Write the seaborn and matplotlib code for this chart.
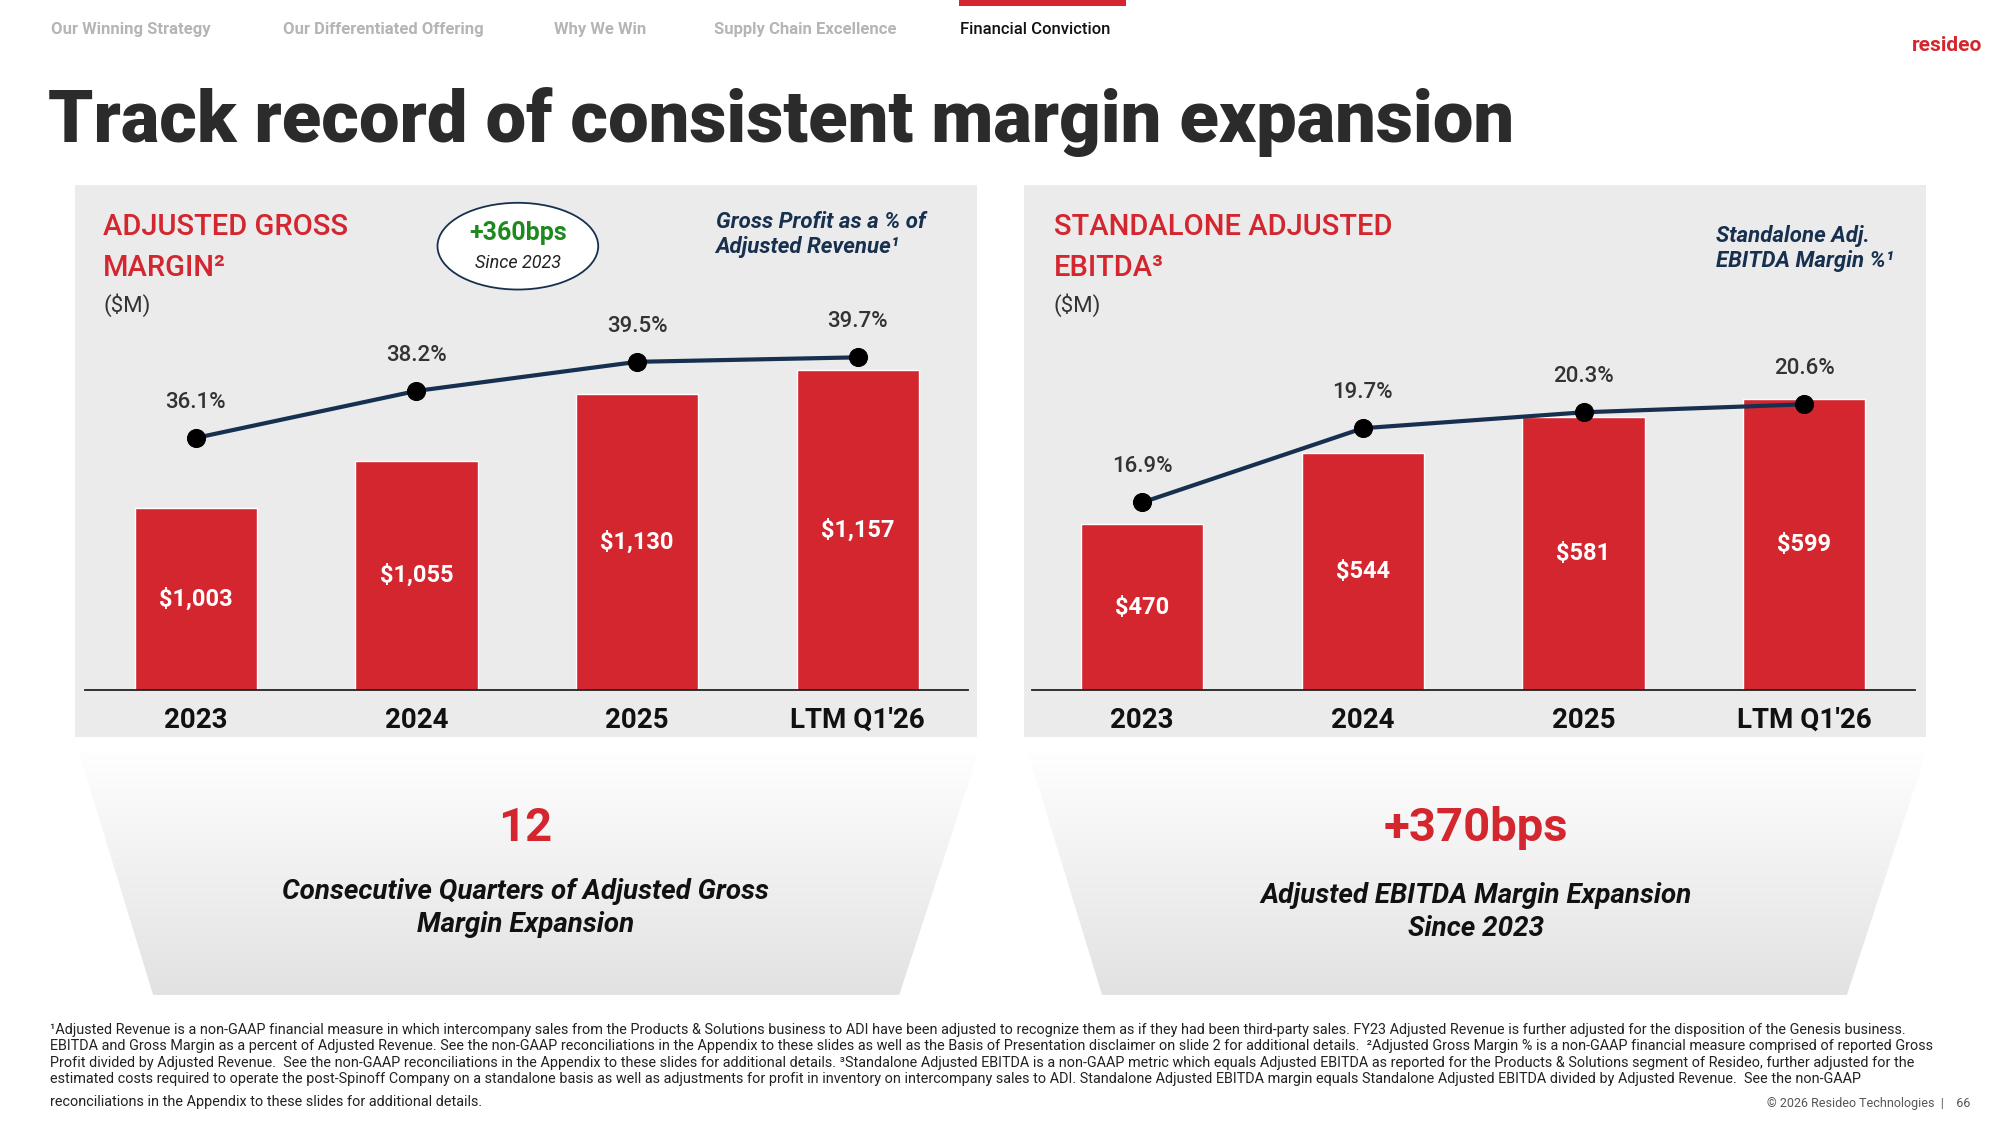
import numpy as np
import pandas as pd
import matplotlib
matplotlib.use("Agg")
import matplotlib.pyplot as plt
import seaborn as sns
from matplotlib.patches import Rectangle, Ellipse, Polygon

categories = ["2023", "2024", "2025", "LTM Q1'26"]
gross_profit = [1003, 1055, 1130, 1157]
gross_margin = [36.1, 38.2, 39.5, 39.7]
ebitda = [470, 544, 581, 599]
ebitda_margin = [16.9, 19.7, 20.3, 20.6]
gp_labels = ["$1,003", "$1,055", "$1,130", "$1,157"]
eb_labels = ["$470", "$544", "$581", "$599"]
nav_tabs = ["Our Winning Strategy", "Our Differentiated Offering", "Why We Win",
            "Supply Chain Excellence", "Financial Conviction"]

sns.set_theme(style="white")
plt.rcParams['font.family'] = ['Roboto', 'DejaVu Sans']

RED = "#D4262F"
NAVY = "#17304F"
GREEN = "#1E8A1E"
DARK = "#2B2B2B"
BG = "#EBEBEB"
W, H = 1568.0, 882.0
def fx(x): return x / W
def fy(y): return 1 - y / H

fig = plt.figure(figsize=(20, 11.25), dpi=100)
fig.patch.set_facecolor("white")

# nav
nav_x = [40, 222, 434, 560, 753]
for i, (t, x) in enumerate(zip(nav_tabs, nav_x)):
    last = i == len(nav_tabs) - 1
    fig.text(fx(x), fy(23), t, fontsize=12, color="#111111" if last else "#B5B5B5",
             fontweight="medium" if last else "bold", va="center")
fig.add_artist(Rectangle((fx(752), fy(5)), fx(131), 5 / H, transform=fig.transFigure,
                         color=RED, lw=0))
fig.text(fx(1554), fy(36), "resideo", fontsize=15, color=RED, fontweight="bold",
         ha="right", va="center")
fig.text(fx(38), fy(96), "Track record of consistent margin expansion", fontsize=52,
         fontweight="black", color=DARK, va="center")

# panels
for x0 in (59, 803):
    fig.add_artist(Rectangle((fx(x0), fy(578)), fx(707), (578 - 145) / H,
                             transform=fig.transFigure, color=BG, lw=0, zorder=0))

def panel(ax_left, vals, pct, vlabels, ylim, ylim2):
    ax = fig.add_axes([fx(ax_left), fy(541), fx(692), (541 - 145) / H])
    ax.patch.set_alpha(0)
    df = pd.DataFrame({"cat": categories, "v": vals})
    sns.barplot(data=df, x="cat", y="v", color=RED, width=0.555, saturation=1, ax=ax)
    ax.set_ylim(*ylim)
    ax.set_xlim(-0.5, 3.5)
    for i, (v, l) in enumerate(zip(vals, vlabels)):
        ax.text(i, (ylim[0] + v) / 2, l, color="white", fontsize=17, fontweight="bold",
                ha="center", va="center")
    for s in ["top", "right", "left"]:
        ax.spines[s].set_visible(False)
    ax.spines["bottom"].set_color("#222222")
    ax.spines["bottom"].set_linewidth(1.3)
    ax.set_yticks([])
    ax.set_xlabel(""); ax.set_ylabel("")
    ax.tick_params(axis="x", length=0, labelsize=20, pad=12)
    for t in ax.get_xticklabels():
        t.set_fontweight("bold"); t.set_color("#111111")
    ax2 = ax.twinx()
    sns.lineplot(x=list(range(4)), y=pct, ax=ax2, color=NAVY, lw=3, marker="o",
                 markersize=13, markerfacecolor="black", markeredgecolor="black")
    ax2.set_ylim(*ylim2)
    ax2.set_yticks([])
    for s in ax2.spines.values():
        s.set_visible(False)
    off = (ylim2[1] - ylim2[0]) * 0.05
    for i, p in enumerate(pct):
        ax2.text(i, p + off, f"{p:.1f}%", ha="center", va="bottom", fontsize=16,
                 fontweight="medium", color="#333333")
    return ax

panel(67, gross_profit, gross_margin, gp_labels, (799, 1364), (24.84, 47.4))
panel(809, ebitda, ebitda_margin, eb_labels, (299, 820), (9.83, 28.87))

# panel headings
hk = dict(fontsize=21, color=RED, fontweight="medium", va="center")
fig.text(fx(81), fy(178), "ADJUSTED GROSS", **hk)
fig.text(fx(81), fy(210), "MARGIN²", **hk)
fig.text(fx(81), fy(239), "($M)", fontsize=16, color="#333333", va="center")
fig.text(fx(826), fy(178), "STANDALONE ADJUSTED", **hk)
fig.text(fx(826), fy(210), "EBITDA³", **hk)
fig.text(fx(826), fy(239), "($M)", fontsize=16, color="#333333", va="center")
fig.text(fx(561), fy(184), "Gross Profit as a % of\nAdjusted Revenue¹", fontsize=16,
         color=NAVY, style="italic", fontweight="bold", va="center", linespacing=1.2)
fig.text(fx(1345), fy(195), "Standalone Adj.\nEBITDA Margin %¹", fontsize=16,
         color=NAVY, style="italic", fontweight="bold", va="center", linespacing=1.2)
fig.add_artist(Ellipse((fx(406), fy(193)), fx(126), 68 / H, transform=fig.transFigure,
                       facecolor="white", edgecolor=NAVY, lw=1.3))
fig.text(fx(406), fy(183), "+360bps", fontsize=18, color=GREEN, fontweight="bold", ha="center", va="center")
fig.text(fx(406), fy(206), "Since 2023", fontsize=13, color="#222222", style="italic", ha="center", va="center")

# funnels
grad = np.linspace(1, 0, 256).reshape(-1, 1)
cmap = matplotlib.colors.LinearSegmentedColormap.from_list("g", ["#E2E2E2", "#FFFFFF"])
for (x0, x1, b0, b1) in [(62, 767, 120, 705), (806, 1510, 864, 1448)]:
    axg = fig.add_axes([0, 0, 1, 1], zorder=-1)
    axg.set_xlim(0, 1); axg.set_ylim(0, 1); axg.axis("off")
    poly = Polygon([(fx(x0), fy(590)), (fx(x1), fy(590)), (fx(b1), fy(780)), (fx(b0), fy(780))],
                   closed=True, transform=axg.transData, facecolor="none", edgecolor="none")
    axg.add_patch(poly)
    im = axg.imshow(grad, cmap=cmap, extent=(fx(x0), fx(x1), fy(780), fy(585)), aspect="auto", vmin=0, vmax=1)
    im.set_clip_path(poly)

fig.text(fx(412), fy(649), "12", fontsize=34, color=RED, fontweight="bold", ha="center", va="center")
fig.text(fx(412), fy(712), "Consecutive Quarters of Adjusted Gross\nMargin Expansion", fontsize=20,
         color="#111111", style="italic", fontweight="bold", ha="center", va="center", linespacing=1.3)
fig.text(fx(1157), fy(649), "+370bps", fontsize=34, color=RED, fontweight="bold", ha="center", va="center")
fig.text(fx(1157), fy(715), "Adjusted EBITDA Margin Expansion\nSince 2023", fontsize=20,
         color="#111111", style="italic", fontweight="bold", ha="center", va="center", linespacing=1.3)

foot = ("¹Adjusted Revenue is a non-GAAP financial measure in which intercompany sales from the Products & Solutions business to ADI have been adjusted to recognize them as if they had been third-party sales. FY23 Adjusted Revenue is further adjusted for the disposition of the Genesis business.\n"
        "EBITDA and Gross Margin as a percent of Adjusted Revenue. See the non-GAAP reconciliations in the Appendix to these slides as well as the Basis of Presentation disclaimer on slide 2 for additional details.  ²Adjusted Gross Margin % is a non-GAAP financial measure comprised of reported Gross\n"
        "Profit divided by Adjusted Revenue.  See the non-GAAP reconciliations in the Appendix to these slides for additional details. ³Standalone Adjusted EBITDA is a non-GAAP metric which equals Adjusted EBITDA as reported for the Products & Solutions segment of Resideo, further adjusted for the\n"
        "estimated costs required to operate the post-Spinoff Company on a standalone basis as well as adjustments for profit in inventory on intercompany sales to ADI. Standalone Adjusted EBITDA margin equals Standalone Adjusted EBITDA divided by Adjusted Revenue.  See the non-GAAP")
fig.text(fx(39), fy(802), foot, fontsize=10.4, color="#222222", va="top", linespacing=1.22)
fig.text(fx(39), fy(864), "reconciliations in the Appendix to these slides for additional details.",
         fontsize=10.4, color="#222222", va="center")
fig.text(fx(1545), fy(865), "© 2026 Resideo Technologies  |    66", fontsize=9, color="#555555",
         ha="right", va="center")

fig.savefig("out.png", dpi=100, facecolor="white")
